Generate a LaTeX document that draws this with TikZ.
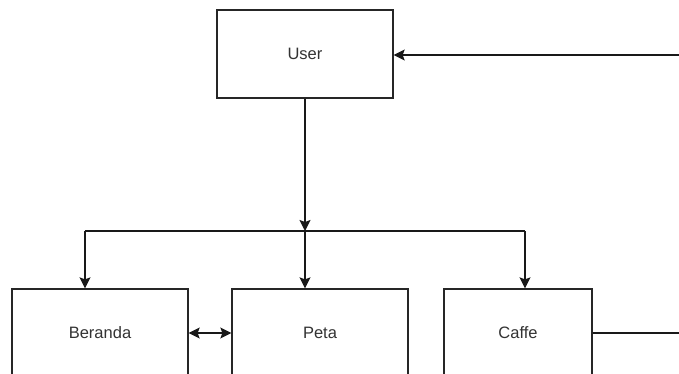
\documentclass[tikz,border=0pt]{standalone}
\usepackage{fontspec}
\setmainfont{Liberation Sans}
\usetikzlibrary{arrows.meta}
\begin{document}
\begin{tikzpicture}[x=1pt,y=-1pt,
  box/.style={draw=black!85,line width=1.3pt,fill=white,minimum height=88pt,inner sep=0pt,
    font=\fontsize{16.5}{19}\selectfont,text=black!80},
  link/.style={draw=black!90,line width=1.3pt},
  arr/.style={link,-{Stealth[length=11pt,width=11pt,inset=2pt]}},
  darr/.style={link,{Stealth[length=11pt,width=11pt,inset=2pt]}-{Stealth[length=11pt,width=11pt,inset=2pt]}}]
  \useasboundingbox (0,0) rectangle (679,374);
  \clip (0,0) rectangle (679,374);
  \fill[white] (0,0) rectangle (679,374);

  % boxes
  \node[box,minimum width=176pt] (user) at (305,54) {User};
  \node[box,minimum width=176pt] (beranda) at (100,333) {Beranda};
  \node[box,minimum width=176pt] (peta) at (320,333) {Peta};
  \node[box,minimum width=148pt] (caffe) at (518,333) {Caffe};

  % distribution bus below User
  \coordinate (j) at (305,231);
  \coordinate (jl) at (85,231);
  \coordinate (jr) at (525,231);
  \coordinate (inR) at (679,55);
  \coordinate (outR) at (679,333);

  \draw[arr] (user.south) -- (j);
  \draw[link] (jl) -- (jr);
  \draw[arr] (jl) -- (jl |- beranda.north);
  \draw[arr] (j) -- (j |- peta.north);
  \draw[arr] (jr) -- (jr |- caffe.north);

  % side connections
  \draw[darr] (beranda.east) -- (peta.west);
  \draw[arr] (inR) -- (inR -| user.east);
  \draw[link] (caffe.east) -- (outR);
\end{tikzpicture}
\end{document}
